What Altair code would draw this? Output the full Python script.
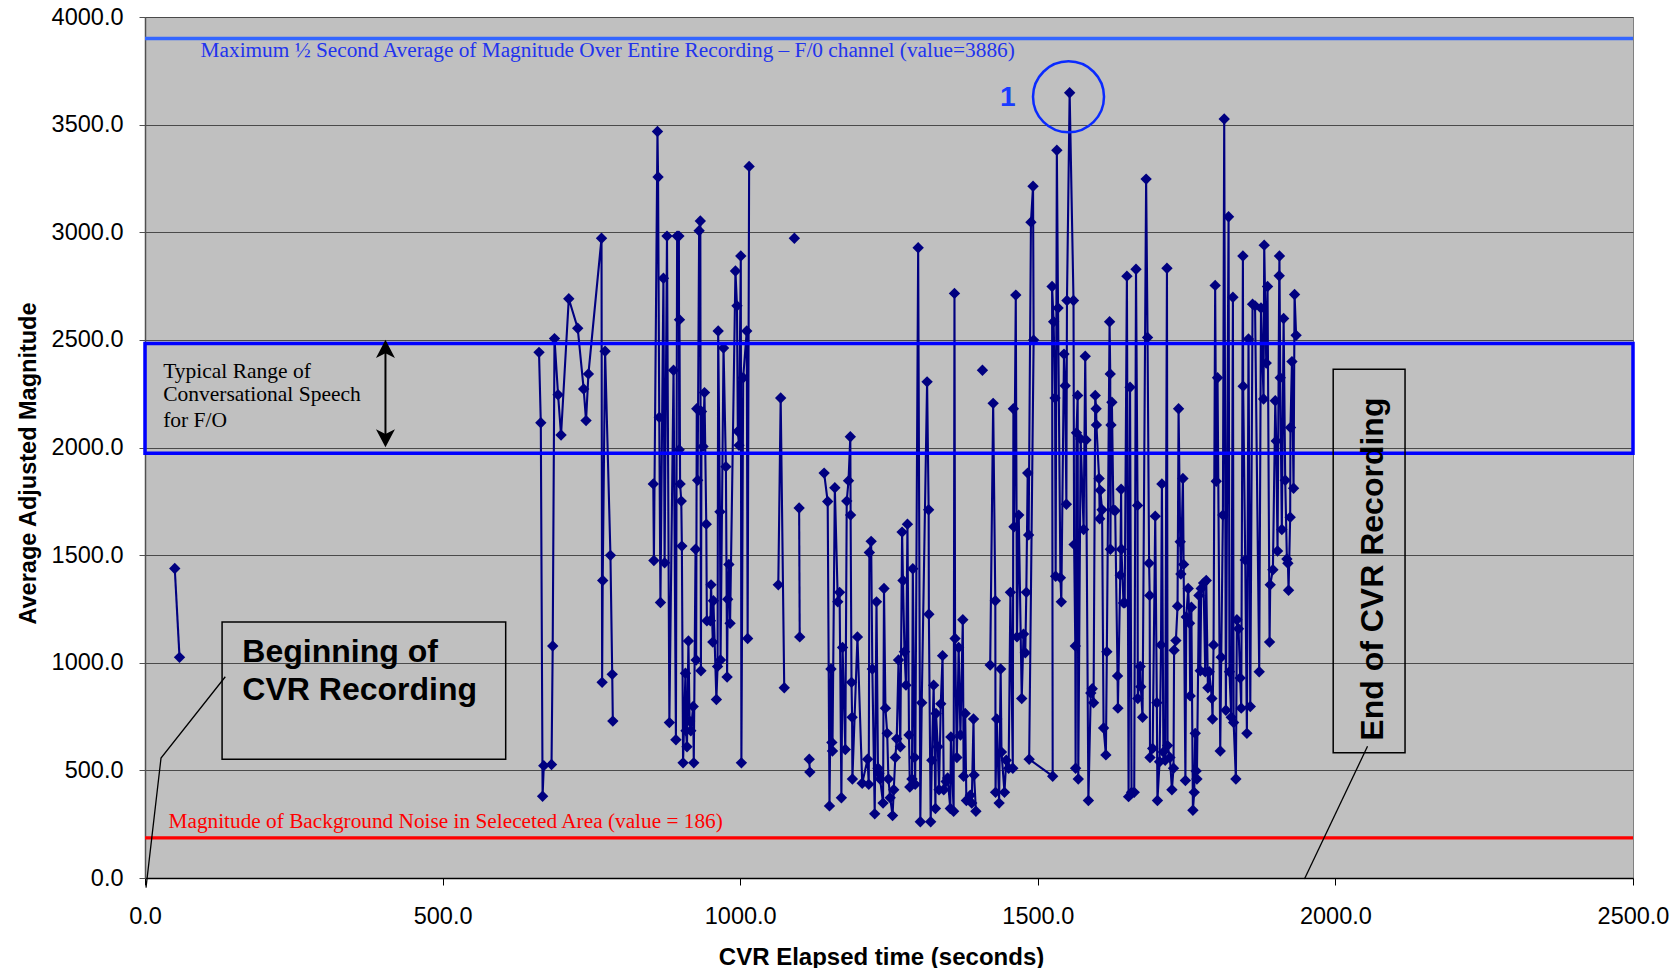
import altair as alt
import pandas as pd

# ---------------- data ----------------
# segment 1: start of recording
T1 = [50, 58]
M1 = [1438, 1025]

# segment 2
T2 = [662, 665, 668, 670, 683, 685, 688, 694, 699, 712,
      727, 737, 741, 745, 767, 768, 769, 773, 782, 785, 786]
M2 = [2442, 2115, 380, 522, 527, 1078, 2506, 2245, 2058, 2691,
      2554, 2272, 2125, 2342, 2972, 909, 1382, 2447, 1499, 946, 729]

# segment 3
T3 = [854, 855, 861, 862, 864, 866, 871, 873, 877, 881,
      888, 892, 894, 897, 897.5, 898, 899, 901, 902, 904,
      908, 909, 910.6, 913, 915, 917, 921, 922, 925, 926,
      927, 928.5, 931, 933, 934, 935, 937.5, 940, 943, 944,
      950, 951, 954, 955, 960, 962, 963, 966, 967, 972,
      976, 978, 979, 981, 983, 992, 994.6, 996, 998, 1001,
      1002, 1005, 1011, 1012.5, 1015]
M3 = [1831, 1475, 3468, 3257, 2140, 1280, 2786, 1464, 2982, 722,
      2359, 642, 2982, 2982, 1990, 2594, 1831, 1751, 1542, 535,
      951, 684, 610, 1101, 729, 684, 797, 535, 1527, 1013,
      2180, 1848, 3007, 3052, 963, 2167, 2005, 2255, 1644, 1195,
      1195, 1362, 1096, 1288, 829, 983, 2541, 1701, 1013, 2462,
      1911, 934, 1295, 1457, 1183, 2820, 2658, 2075, 2010, 2890,
      535, 2324, 2541, 1113, 3306]

# segments 4-7 (short pieces)
T4 = [1064, 1068, 1074]
M4 = [1362, 2230, 884]
T5 = [1091]
M5 = [2972]
T6 = [1099, 1100]
M6 = [1719, 1120]
T7 = [1116, 1117]
M7 = [552, 492]

# segment 8
T8 = [1141, 1147, 1150, 1152.5, 1154, 1155, 1159, 1164, 1167, 1170,
      1172, 1176.6, 1179, 1182, 1185, 1185.5, 1187, 1188, 1188.5, 1197,
      1205, 1214, 1216, 1217, 1220, 1222, 1226, 1229, 1231.5, 1233,
      1235, 1240, 1241.6, 1244, 1247, 1249, 1252, 1256, 1258, 1260.6,
      1263, 1266, 1269, 1272, 1273.5, 1276, 1278.5, 1281, 1283.6, 1285,
      1288.6, 1290, 1293, 1294, 1299, 1302.6, 1305, 1314, 1316.6, 1317,
      1320, 1322, 1325, 1328, 1329, 1332, 1334, 1337, 1340, 1342,
      1346, 1348.5, 1353, 1354, 1358.6, 1360, 1361, 1364, 1367, 1370,
      1374, 1375.4, 1378, 1380, 1386.6, 1389, 1392, 1393, 1396]
M8 = [1881, 1749, 335, 971, 630, 590, 1813, 1283, 1327, 373,
      1071, 597, 1751, 1846, 2050, 1686, 909, 747, 460, 1120,
      440, 552, 435, 1512, 1564, 971, 298, 1283, 510, 485,
      460, 348, 1345, 789, 672, 460, 373, 290, 410, 560,
      647, 1013, 610, 1607, 1382, 1051, 896, 1644, 664, 423,
      460, 1437, 560, 435, 2928, 261, 814, 2305, 1711, 1225,
      261, 547, 896, 323, 764, 610, 410, 809, 1033, 410,
      448, 465, 323, 655, 310, 2716, 1113, 560, 1071, 664,
      1200, 473, 764, 360, 385, 348, 739, 478, 310]

# segment 9 (single point)
T9 = [1407]
M9 = [2359]

# segment 10 (listed in recorded order)
T10 = [1420, 1425, 1428.6, 1429, 1431, 1435, 1437.6, 1439, 1444, 1447,
       1451, 1454, 1458, 1459, 1460, 1463, 1465, 1468, 1473, 1476,
       1479, 1480.7, 1483, 1484.6, 1488.5, 1492, 1493, 1485.5, 1525, 1524,
       1526.6, 1529, 1530, 1532, 1534, 1538, 1539.5, 1544, 1546, 1548,
       1549, 1553.5, 1560, 1561, 1563, 1563.5, 1565, 1567, 1568, 1572,
       1577, 1579.7, 1581, 1585, 1589, 1591.5, 1593.7, 1596.5, 1598, 1598.5,
       1603, 1604, 1605, 1608, 1610.5, 1614.4, 1616, 1620.6, 1621.7, 1622,
       1623, 1624.5, 1627, 1630, 1634, 1634.6, 1638.5, 1640, 1640.5, 1644,
       1646, 1649.7, 1652.5, 1655, 1657.5, 1662, 1665, 1667.6, 1668, 1672,
       1673, 1676, 1682, 1684.4, 1687, 1688, 1688.5, 1693, 1697.3, 1700,
       1701, 1704.6, 1707, 1708.5, 1711, 1714, 1717, 1718, 1722, 1725.3,
       1728, 1729, 1732, 1734.8, 1736.5, 1739.3, 1740.4, 1743.8, 1745, 1748,
       1749.4, 1752.7, 1755, 1756, 1758, 1760.6, 1762.8, 1764.5, 1766, 1767.3,
       1770.7, 1773, 1774.6, 1778.5, 1781.3, 1783, 1785.8, 1788, 1792.5, 1793.6,
       1795.3, 1798, 1799.8, 1802, 1806.5, 1808.2, 1811, 1813.2, 1816, 1820.5,
       1822, 1825, 1827.8, 1829, 1832.8, 1834.5, 1837.3, 1840, 1841.8, 1844.6,
       1845, 1848.5, 1851.3, 1854, 1857, 1860.8, 1865, 1872, 1875, 1879.3,
       1880.4, 1883.8, 1886, 1889.4, 1890.5, 1895, 1899, 1900.6, 1902.8, 1905.6,
       1906, 1907.3, 1910, 1913, 1915.7, 1918.5, 1920.2, 1921.3, 1924, 1924.5,
       1927, 1929.7, 1931.4, 1934]
M10 = [989, 2205, 1288, 398, 739, 348, 971, 585, 398, 547,
       510, 1327, 510, 2180, 1632, 2708, 1120, 1686, 834, 1133,
       1046, 1327, 1881, 1594, 3047, 3214, 2499, 552, 473, 2748,
       2584, 2230, 1402, 3381, 2648, 1395, 1283, 2434, 2287, 1736,
       2683, 3648, 2683, 1549, 1078, 510, 2068, 2242, 460, 2040,
       1619, 2424, 2035, 360, 859, 879, 814, 2242, 2180, 2105,
       1856, 1669, 1801, 1711, 697, 572, 1051, 2584, 2342, 1527,
       2105, 2210, 1711, 1706, 939, 789, 1407, 1806, 1527, 1278,
       1278, 2796, 378, 2280, 398, 398, 2828, 1731, 834, 983,
       889, 747, 3247, 2511, 1462, 1313, 560, 602, 1681, 814,
       360, 540, 1083, 1831, 585, 547, 2833, 615, 560, 410,
       510, 1058, 1103, 1263, 2180, 1562, 1412, 1856, 1457, 453,
       1213, 1345, 1183, 846, 1258, 315, 398, 672, 497, 460,
       1313, 963, 1345, 1370, 958, 1382, 884, 958, 834, 739,
       1083, 2753, 1843, 2324, 590, 1026, 1686, 3526, 779, 3072,
       958, 747, 2698, 722, 460, 1200, 1158, 929, 789, 2890,
       2285, 1477, 672, 2504, 797, 2666, 2658, 958, 2648, 2225,
       2940, 2392, 2748, 1096, 1362, 1432, 2217, 2030, 1519, 2798,
       2890, 2324, 1619, 2599, 1848, 1482, 1462, 1337, 1676, 2093,
       2399, 1811, 2711, 2521]

MAX_LEVEL = 3900          # labelled value 3886
NOISE_LEVEL = 186
SPEECH_RANGE = [1973, 2483]
X_TICKS = [0, 500, 1000, 1500, 2000, 2500]
Y_TICKS = [0, 500, 1000, 1500, 2000, 2500, 3000, 3500, 4000]

SEGMENTS = [(T1, M1), (T2, M2), (T3, M3), (T4, M4), (T5, M5),
            (T6, M6), (T7, M7), (T8, M8), (T9, M9), (T10, M10)]
rows = []
for s, (ts, ms) in enumerate(SEGMENTS):
    assert len(ts) == len(ms), (s, len(ts), len(ms))
    for t, m in zip(ts, ms):
        rows.append({"t": t, "m": m, "seg": s, "i": len(rows)})
df = pd.DataFrame(rows)

# ---------------- chart ----------------
W, H = 1488, 861
xs = alt.Scale(domain=[0, 2500], nice=False, zero=False)
ys = alt.Scale(domain=[0, 4000], nice=False, zero=False)
SANS = "Liberation Sans"
SERIF = "Liberation Serif"

x_axis = alt.Axis(values=X_TICKS, format=".1f", grid=False, labelFlush=False,
                  labelFont=SANS, labelFontSize=23.5, labelColor="black",
                  labelPadding=19, tickSize=7, tickColor="black",
                  domainColor="black", domainWidth=1.5,
                  title="CVR Elapsed time (seconds)", titleFont=SANS,
                  titleFontSize=24, titleFontWeight="bold", titleColor="black",
                  titleX=736, titleY=86, titleBaseline="alphabetic")
y_axis = alt.Axis(values=Y_TICKS, format=".1f", grid=True, gridColor="#4a4a4a",
                  gridWidth=1, labelFlush=False,
                  labelFont=SANS, labelFontSize=23.5, labelColor="black",
                  labelPadding=16, tickSize=6, tickColor="#505050",
                  domainColor="#505050", domainWidth=1.5,
                  title="Average Adjusted Magnitude", titleFont=SANS,
                  titleFontSize=23.5, titleFontWeight="bold", titleColor="black",
                  titleX=-110, titleY=446, titleBaseline="alphabetic")


def X(f):
    return alt.X(f, type="quantitative", scale=xs, axis=x_axis)


def Y(f):
    return alt.Y(f, type="quantitative", scale=ys, axis=y_axis)


line = alt.Chart(df).mark_line(color="#000080", strokeWidth=2.1).encode(
    x=X("t"), y=Y("m"), detail="seg:N", order="i:Q")
pts = alt.Chart(df).mark_point(shape="diamond", filled=True, size=130,
                               color="#000080", opacity=1).encode(
    x=X("t"), y=Y("m"))

speech = alt.Chart(pd.DataFrame({"t": [0], "t2": [2500],
                                 "m": [SPEECH_RANGE[0]], "m2": [SPEECH_RANGE[1]]})
                   ).mark_rect(fillOpacity=0, stroke="#0000ff", strokeWidth=3.5).encode(
    x=X("t"), x2="t2", y=Y("m"), y2="m2")

max_rule = alt.Chart(pd.DataFrame({"m": [MAX_LEVEL]})).mark_rule(
    color="#3366ff", strokeWidth=3.5).encode(y=Y("m"))
noise_rule = alt.Chart(pd.DataFrame({"m": [NOISE_LEVEL]})).mark_rule(
    color="#ff0000", strokeWidth=3.3).encode(y=Y("m"))

max_text = alt.Chart(pd.DataFrame({"t": [93.4], "m": [3840],
    "text": ["Maximum \u00bd Second Average of Magnitude Over Entire Recording \u2013 F/0 channel (value=3886)"]})
).mark_text(font=SERIF, fontSize=21.3, color="#2233ee", align="left", baseline="middle").encode(
    x=X("t"), y=Y("m"), text="text:N")

noise_text = alt.Chart(pd.DataFrame({"t": [39.5], "m": [258],
    "text": ["Magnitude of Background Noise in Seleceted Area (value = 186)"]})
).mark_text(font=SERIF, fontSize=21.3, color="#ff0000", align="left", baseline="middle").encode(
    x=X("t"), y=Y("m"), text="text:N")

speech_text = alt.Chart(pd.DataFrame({"t": [30.5, 30.5, 30.5], "m": [2353, 2243, 2124],
    "text": ["Typical Range of", "Conversational Speech", "for F/O"]})
).mark_text(font=SERIF, fontSize=21.5, color="black", align="left", baseline="middle").encode(
    x=X("t"), y=Y("m"), text="text:N")

arrow_shaft = alt.Chart(pd.DataFrame({"t": [404], "m": [2040], "m2": [2460]})).mark_rule(
    color="black", strokeWidth=2).encode(x=X("t"), y=Y("m"), y2="m2")
arrow_up = alt.Chart(pd.DataFrame({"t": [404], "m": [2456]})).mark_point(
    shape="M0,-1L1,0.9L0,0.4L-1,0.9Z", filled=True, size=361, color="black", opacity=1).encode(
    x=X("t"), y=Y("m"))
arrow_down = alt.Chart(pd.DataFrame({"t": [404], "m": [2045]})).mark_point(
    shape="M0,1L1,-0.9L0,-0.4L-1,-0.9Z", filled=True, size=361, color="black", opacity=1).encode(
    x=X("t"), y=Y("m"))

boxes = alt.Chart(pd.DataFrame({"t": [129.5, 1996.3], "t2": [606, 2117],
                                "m": [552, 581.6], "m2": [1189, 2363]})
                  ).mark_rect(fillOpacity=0, stroke="black", strokeWidth=1.5).encode(
    x=X("t"), x2="t2", y=Y("m"), y2="m2")

begin_text = alt.Chart(pd.DataFrame({"t": [163.6, 163.6], "m": [1049.5, 875.3],
    "text": ["Beginning of", "CVR Recording"]})
).mark_text(font=SANS, fontSize=32, fontWeight="bold", color="black",
            align="left", baseline="middle").encode(x=X("t"), y=Y("m"), text="text:N")

end_text = alt.Chart(pd.DataFrame({"t": [2063], "m": [1435], "text": ["End of CVR Recording"]})
).mark_text(font=SANS, fontSize=32, fontWeight="bold", color="black", angle=270,
            align="center", baseline="middle").encode(x=X("t"), y=Y("m"), text="text:N")

leaders = alt.Chart(pd.DataFrame({"t": [134.9, 26.9, 1.7, 2054, 1948],
                                  "m": [935, 557, -45, 612, -5],
                                  "g": [0, 0, 0, 1, 1], "o": [0, 1, 2, 0, 1]})
                    ).mark_line(color="black", strokeWidth=1.3).encode(
    x=X("t"), y=Y("m"), detail="g:N", order="o:Q")

one_text = alt.Chart(pd.DataFrame({"t": [1449.6], "m": [3626], "text": ["1"]})
).mark_text(font=SANS, fontSize=28, fontWeight="bold", color="#1a3cff",
            align="center", baseline="middle").encode(x=X("t"), y=Y("m"), text="text:N")

circle = alt.Chart(pd.DataFrame({"t": [1551.6], "m": [3629]})).mark_point(
    shape="circle", filled=False, size=5041, color="#0a2aff", strokeWidth=2.5, opacity=1).encode(
    x=X("t"), y=Y("m"))

chart = alt.layer(
    line, pts, speech, max_rule, noise_rule, max_text, noise_text, speech_text,
    arrow_shaft, arrow_up, arrow_down, boxes, begin_text, end_text, leaders,
    one_text, circle,
).properties(
    width=W, height=H,
    autosize=alt.AutoSizeParams(type="none"),
    padding={"left": 145, "top": 17, "right": 40, "bottom": 90},
    background="white",
).configure_view(fill="#C0C0C0", stroke="#808080", strokeWidth=1)

chart.save("out.html", embed_options={"renderer": "svg", "actions": False})
